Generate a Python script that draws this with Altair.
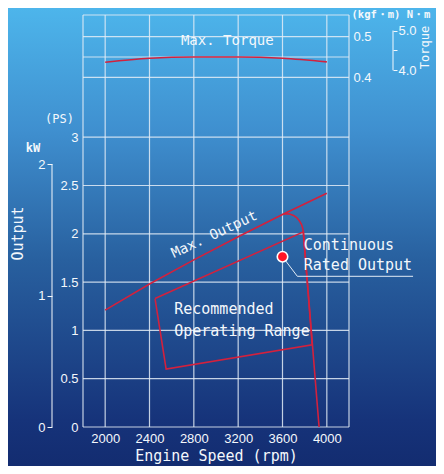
import altair as alt
import pandas as pd

# ---------------- data ----------------
rpm_ticks = [2000, 2400, 2800, 3200, 3600, 4000]
frame_rpm = [1800, 4200]
ps_ticks = [0, 0.5, 1, 1.5, 2, 2.5, 3]
torque_ticks = [0.4, 0.45, 0.5]
kw_ticks = [0, 1, 2]
nm_ticks = [4.0, 4.5, 5.0]

torque_rpm = [2000, 2400, 2800, 3200, 3600, 4000]
torque_kgfm = [0.437, 0.447, 0.450, 0.450, 0.447, 0.438]

maxout_rpm = [2000, 2400, 2800, 3200, 3600, 4000]
maxout_ps = [1.21, 1.48, 1.73, 1.97, 2.20, 2.42]

governor_rpm = [3600, 3630, 3665, 3700, 3730, 3755, 3772, 3783, 3788, 3930]
governor_ps = [2.20, 2.208, 2.205, 2.19, 2.165, 2.13, 2.095, 2.055, 2.02, 0.0]

range_rpm = [2450, 3788, 3868, 2550, 2450]
range_ps = [1.33, 2.02, 0.85, 0.60, 1.33]

rated_rpm = [3600]
rated_ps = [1.763]

leader_rpm = [3600, 3734, 4778]
leader_ps = [1.763, 1.56, 1.56]

label_text = ["Continuous", "Rated Output", "Recommended", "Operating Range"]
label_rpm = [3792, 3792, 2623, 2623]
label_ps = [1.889, 1.674, 1.218, 0.997]

# ---------------- style ----------------
W, H = 266, 412
X_DOM = [1800, 4200]
PS_DOM = [0, 4.265]
TQ_DOM = [-0.4613, 0.5534]
KW_DOM = [0, 3.137]
NM_DOM = [-4.96, 5.39]

RED = "#d3213d"
GRID = "#e3ecf6"
TXT = "#f4f8fc"
MONO = "DejaVu Sans Mono"
SANS = "Liberation Sans"

xs = alt.Scale(domain=X_DOM, nice=False, zero=False)
ps_s = alt.Scale(domain=PS_DOM, nice=False, zero=False)
tq_s = alt.Scale(domain=TQ_DOM, nice=False, zero=False)
kw_s = alt.Scale(domain=KW_DOM, nice=False, zero=False)
nm_s = alt.Scale(domain=NM_DOM, nice=False, zero=False)

x_axis = alt.Axis(values=rpm_ticks, format="d", grid=False, domain=False, ticks=False,
                  labelFont=SANS, labelFontSize=13, labelColor=TXT, labelPadding=5,
                  title="Engine Speed (rpm)", titleFont=MONO, titleFontSize=15,
                  titleFontWeight="normal", titleColor=TXT, titlePadding=3, zindex=1)

ps_axis = alt.Axis(values=ps_ticks, grid=False, domain=False, ticks=False, format="~g",
                   labelFont=SANS, labelFontSize=13, labelColor=TXT, labelPadding=5,
                   title="(PS)", titleAngle=0, titleAlign="center", titleBaseline="middle",
                   titleX=-24, titleY=103, titleFont=MONO, titleFontSize=12,
                   titleFontWeight="normal", titleColor=TXT, zindex=1)

tq_axis = alt.Axis(orient="right", values=torque_ticks,
                   labelExpr="datum.value == 0.45 ? '' : format(datum.value, '.1f')",
                   grid=False, domain=False, ticks=False,
                   labelFont=SANS, labelFontSize=13, labelColor=TXT, labelPadding=4,
                   title="(kgf・m) N・m", titleAngle=0, titleAlign="left",
                   titleBaseline="middle", titleX=2, titleY=-1, titleFont=MONO,
                   titleFontSize=10.5, titleFontWeight="bold", titleColor=TXT, zindex=1)

kw_axis = alt.Axis(orient="left", offset=31, values=kw_ticks, format="d", grid=False,
                   domain=False, ticks=True, tickSize=5, tickColor=TXT, tickWidth=1,
                   labelFont=SANS, labelFontSize=13, labelColor=TXT, labelPadding=2,
                   title="Output", titleFont=MONO, titleFontSize=15, titleFontWeight="normal",
                   titleColor=TXT, titlePadding=12, titleY=218, zindex=1)

nm_axis = alt.Axis(orient="right", offset=44, values=nm_ticks,
                   labelExpr="datum.value == 4.5 ? '' : format(datum.value, '.1f')",
                   grid=False, domain=False, ticks=True, tickSize=4, tickColor=TXT,
                   tickWidth=1, labelFont=SANS, labelFontSize=13, labelColor=TXT,
                   labelPadding=1, title="Torque", titleAngle=270, titleFont=MONO,
                   titleFontSize=12, titleFontWeight="normal", titleColor=TXT,
                   titleAlign="center", titleBaseline="middle", titleX=31, titleY=32,
                   zindex=1)

one = pd.DataFrame({"k": [0]})

gradient = {
    "gradient": "linear", "x1": 0, "x2": 0, "y1": 0, "y2": 1,
    "stops": [
        {"offset": 0.0, "color": "#4db5eb"},
        {"offset": 0.27, "color": "#3f8fcf"},
        {"offset": 0.55, "color": "#28609f"},
        {"offset": 0.9, "color": "#16337a"},
        {"offset": 1.0, "color": "#132c70"},
    ],
}

# ---------------- PS layer ----------------
bg = alt.Chart(one).mark_rect(fill=gradient, strokeWidth=0).encode(
    x=alt.value(-75), x2=alt.value(W + 87), y=alt.value(-7), y2=alt.value(H + 39)
)

vgrid = alt.Chart(pd.DataFrame({"rpm": frame_rpm + rpm_ticks})).mark_rule(
    color=GRID, strokeWidth=1.2, opacity=0.85
).encode(x=alt.X("rpm:Q", scale=xs, axis=x_axis))

hgrid = alt.Chart(pd.DataFrame({"ps": ps_ticks})).mark_rule(
    color=GRID, strokeWidth=1.2, opacity=0.85
).encode(y=alt.Y("ps:Q", scale=ps_s, axis=ps_axis))

topline = alt.Chart(one).mark_rule(color=GRID, strokeWidth=1.2, opacity=0.85).encode(
    x=alt.value(0), x2=alt.value(W), y=alt.value(0)
)

def ps_line(rpm, ps, color=RED, width=1.6):
    df = pd.DataFrame({"rpm": rpm, "ps": ps, "o": list(range(len(rpm)))})
    return alt.Chart(df).mark_line(color=color, strokeWidth=width).encode(
        x=alt.X("rpm:Q", scale=xs),
        y=alt.Y("ps:Q", scale=ps_s),
        order="o:Q",
    )

maxout = ps_line(maxout_rpm, maxout_ps)
governor = ps_line(governor_rpm, governor_ps)
orange = ps_line(range_rpm, range_ps)
leader = ps_line(leader_rpm, leader_ps, color=GRID, width=1)

rated = alt.Chart(pd.DataFrame({"rpm": rated_rpm, "ps": rated_ps})).mark_circle(
    size=110, fill="#ff1426", stroke="white", strokeWidth=1.6, opacity=1
).encode(x=alt.X("rpm:Q", scale=xs), y=alt.Y("ps:Q", scale=ps_s))

labels = alt.Chart(pd.DataFrame({"rpm": label_rpm, "ps": label_ps, "t": label_text})).mark_text(
    font=MONO, fontSize=15, color=TXT, align="left", baseline="middle"
).encode(x=alt.X("rpm:Q", scale=xs), y=alt.Y("ps:Q", scale=ps_s), text="t:N")

maxout_label = alt.Chart(pd.DataFrame({"rpm": [2985], "ps": [1.99], "t": ["Max. Output"]})).mark_text(
    font=MONO, fontSize=14, color=TXT, align="center", baseline="middle", angle=335
).encode(x=alt.X("rpm:Q", scale=xs), y=alt.Y("ps:Q", scale=ps_s), text="t:N")

ps_layer = alt.layer(bg, vgrid, hgrid, topline, orange, maxout, governor, leader,
                     rated, labels, maxout_label)

# ---------------- torque (kgf·m) layer ----------------
tq_grid = alt.Chart(pd.DataFrame({"tq": torque_ticks})).mark_rule(
    color=GRID, strokeWidth=1.2, opacity=0.85
).encode(y=alt.Y("tq:Q", scale=tq_s, axis=tq_axis))

tq_line = alt.Chart(pd.DataFrame({"rpm": torque_rpm, "tq": torque_kgfm})).mark_line(
    color=RED, strokeWidth=1.6, interpolate="monotone"
).encode(x=alt.X("rpm:Q", scale=xs), y=alt.Y("tq:Q", scale=tq_s))

tq_label = alt.Chart(pd.DataFrame({"rpm": [3102], "tq": [0.489], "t": ["Max. Torque"]})).mark_text(
    font=MONO, fontSize=14, color=TXT, align="center", baseline="middle"
).encode(x=alt.X("rpm:Q", scale=xs), y=alt.Y("tq:Q", scale=tq_s), text="t:N")

tq_layer = alt.layer(tq_grid, tq_line, tq_label)

# ---------------- kW layer ----------------
kw_dom = alt.Chart(pd.DataFrame({"a": [kw_ticks[0]], "b": [kw_ticks[-1]]})).mark_rule(
    color=TXT, strokeWidth=1
).encode(x=alt.value(-31), y=alt.Y("a:Q", scale=kw_s, axis=kw_axis), y2="b:Q")

kw_title = alt.Chart(pd.DataFrame({"kw": [2.122], "t": ["kW"]})).mark_text(
    font=MONO, fontSize=12, fontWeight="bold", color=TXT, align="center", baseline="middle"
).encode(x=alt.value(-50), y=alt.Y("kw:Q", scale=kw_s), text="t:N")

kw_layer = alt.layer(kw_dom, kw_title)

# ---------------- N·m layer ----------------
nm_dom = alt.Chart(pd.DataFrame({"a": [nm_ticks[0]], "b": [nm_ticks[-1]]})).mark_rule(
    color=TXT, strokeWidth=1
).encode(x=alt.value(W + 44), y=alt.Y("a:Q", scale=nm_s, axis=nm_axis), y2="b:Q")

nm_layer = alt.layer(nm_dom)

chart = alt.layer(ps_layer, tq_layer, kw_layer, nm_layer).resolve_scale(
    y="independent"
).properties(
    width=W, height=H,
    padding={"left": 75, "top": 7, "right": 87, "bottom": 39},
    autosize=alt.AutoSizeParams(type="none"),
    background="#1e4f92",
).configure_view(stroke=None)

chart.save("out.html", embed_options={"renderer": "svg", "actions": False})
